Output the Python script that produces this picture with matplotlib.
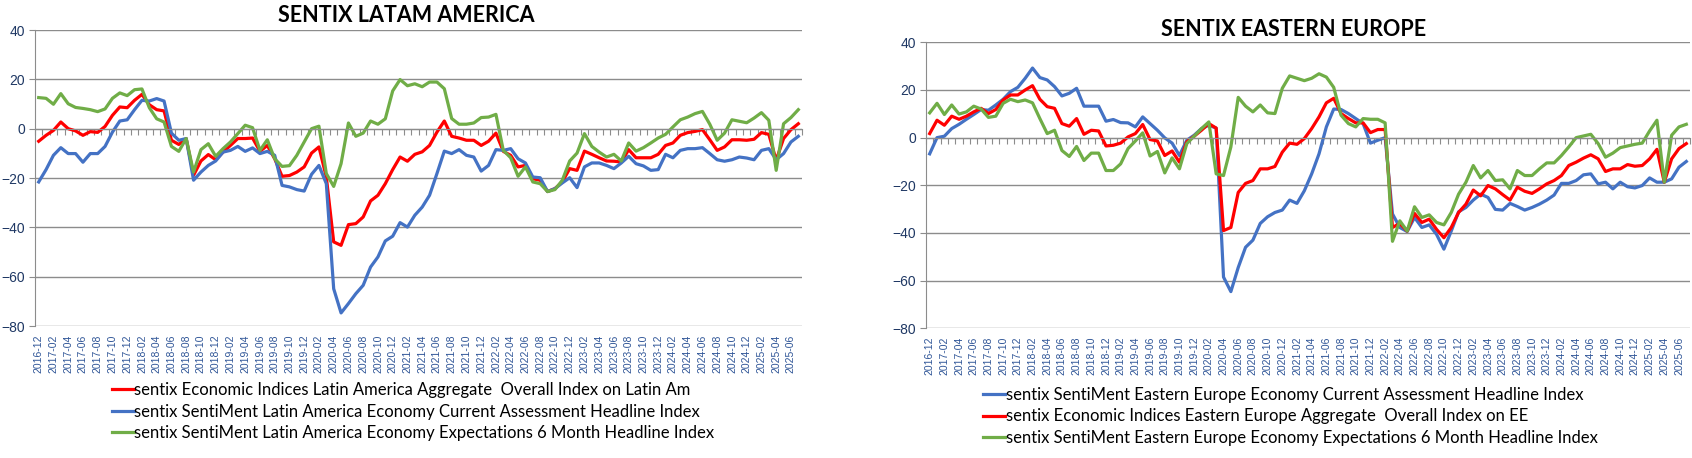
import numpy as np
import pandas as pd
import matplotlib
matplotlib.use("Agg")
import matplotlib.pyplot as plt

# monthly categories 2016-12 .. 2025-07
months = [p.strftime("%Y-%m") for p in pd.period_range("2016-12", "2025-07", freq="M")]

# --- LATAM ---
latam_overall = [
    -5.1, -2.7, -0.7, 2.7, 0.0, -0.9, -2.7, -1.2, -1.5, 0.9,
    5.4, 8.8, 8.5, 11.5, 13.9, 9.7, 7.7, 7.2, -4.7, -6.4,
    -4.0, -18.9, -13.1, -10.5, -12.6, -9.5, -6.8, -4.0, -4.0, -3.8,
    -9.2, -6.8, -12.2, -19.3, -19.0, -17.6, -15.5, -9.9, -7.4, -19.6,
    -45.9, -47.3, -38.9, -38.5, -35.8, -29.3, -27.0, -22.3, -16.6, -11.5,
    -13.2, -10.4, -9.4, -6.8, -1.4, 3.1, -3.1, -3.8, -4.7, -4.7,
    -6.8, -5.1, -1.8, -9.2, -10.8, -15.5, -14.9, -20.3, -20.9, -25.5,
    -24.3, -21.6, -16.2, -16.9, -9.1, -10.4, -11.8, -13.1, -13.2, -13.5,
    -8.5, -11.8, -11.8, -11.8, -10.4, -6.8, -5.8, -2.7, -1.6, -1.1,
    -0.4, -4.5, -8.8, -7.4, -4.5, -4.5, -4.7, -4.3, -1.6, -2.3,
    -12.8, -4.0, -0.4, 2.0,
]
latam_current = [
    -21.6, -16.6, -10.8, -7.7, -10.1, -10.1, -13.6, -10.1, -10.1, -7.2,
    -1.4, 3.1, 3.6, 7.7, 11.5, 11.2, 12.2, 11.2, -1.8, -4.7,
    -4.0, -20.9, -17.6, -14.9, -13.1, -9.5, -8.8, -7.2, -9.2, -7.8,
    -10.1, -9.2, -10.8, -23.0, -23.6, -24.7, -25.3, -18.5, -14.9, -22.3,
    -64.9, -74.7, -70.9, -66.9, -63.5, -56.1, -52.0, -45.5, -43.6, -38.1,
    -39.9, -35.1, -31.8, -27.0, -18.2, -9.1, -10.1, -8.5, -10.8, -11.5,
    -17.2, -14.9, -8.5, -8.8, -8.1, -12.2, -13.9, -19.6, -19.9, -25.5,
    -24.3, -22.0, -19.9, -23.9, -15.5, -13.9, -13.9, -14.9, -16.2, -13.9,
    -11.2, -14.2, -15.1, -16.9, -16.6, -10.4, -11.8, -8.8, -8.1, -8.1,
    -7.7, -10.1, -12.6, -13.2, -12.6, -11.5, -11.9, -12.6, -8.8, -8.1,
    -12.6, -10.1, -5.4, -3.1,
]
latam_expect = [
    12.6, 12.3, 9.9, 14.2, 10.1, 8.6, 8.2, 7.7, 6.9, 8.0,
    12.3, 14.5, 13.4, 15.8, 16.1, 8.5, 4.0, 2.7, -7.2, -9.2,
    -4.0, -17.6, -8.5, -6.1, -11.2, -8.1, -5.4, -2.0, 1.4, 0.4,
    -8.8, -4.5, -12.2, -15.3, -15.0, -10.8, -5.4, 0.0, 1.0, -18.2,
    -23.4, -14.2, 2.3, -3.1, -1.8, 3.1, 1.8, 4.0, 15.3, 19.9,
    17.4, 18.2, 17.0, 18.9, 18.9, 16.2, 4.1, 1.8, 1.8, 2.3,
    4.5, 4.7, 5.8, -8.8, -11.8, -19.3, -15.5, -21.6, -22.3, -25.5,
    -24.7, -20.9, -13.1, -9.9, -2.0, -7.2, -9.5, -11.5, -10.4, -13.1,
    -5.8, -9.1, -7.7, -5.8, -3.8, -2.3, 0.7, 3.6, 4.7, 6.1,
    7.0, 1.8, -4.7, -1.8, 3.6, 3.0, 2.4, 4.3, 6.5, 3.4,
    -16.9, 2.0, 4.5, 7.7,
]

# --- EASTERN EUROPE ---
ee_current = [
    -6.8, 0.0, 0.6, 3.8, 5.6, 7.7, 9.7, 11.8, 11.5, 13.7,
    16.1, 19.3, 21.1, 24.9, 29.2, 25.2, 24.2, 21.4, 17.5, 18.6,
    20.7, 13.2, 13.2, 13.2, 6.9, 7.6, 6.3, 6.2, 4.5, 8.7,
    5.9, 3.1, -0.1, -2.3, -7.5, -1.1, 1.0, 3.8, 5.2, 4.0,
    -58.5, -64.6, -54.5, -46.0, -43.0, -36.0, -33.2, -31.4, -30.4, -26.2,
    -27.6, -22.3, -15.2, -6.8, 4.5, 12.0, 11.8, 10.1, 8.0, 5.9,
    -2.3, -1.1, 0.0, -32.0, -37.7, -39.4, -33.5, -37.7, -36.6, -40.6,
    -46.8, -39.2, -31.1, -29.3, -26.2, -23.7, -25.1, -30.1, -30.4, -27.6,
    -28.9, -30.4, -29.3, -27.9, -26.2, -24.1, -19.2, -19.2, -18.0, -15.6,
    -15.2, -19.4, -18.7, -21.5, -18.7, -20.6, -21.1, -20.1, -16.9, -18.7,
    -18.7, -17.3, -12.4, -10.0,
]
ee_overall = [
    1.7, 7.3, 5.2, 9.0, 7.7, 9.0, 10.8, 12.3, 10.1, 11.8,
    15.8, 17.9, 17.9, 20.0, 21.8, 16.1, 13.0, 12.3, 5.9, 4.8,
    8.0, 1.4, 3.1, 2.8, -3.5, -3.2, -2.3, 0.3, 1.7, 5.5,
    -0.8, -1.4, -7.5, -5.6, -10.3, -1.8, 0.6, 3.1, 5.9, 4.0,
    -39.0, -37.7, -23.0, -19.2, -18.0, -13.1, -13.1, -12.1, -6.1, -2.3,
    -2.8, -0.4, 3.8, 8.7, 14.6, 16.5, 10.1, 8.0, 6.2, 6.2,
    2.1, 3.4, 3.4, -37.7, -36.0, -39.2, -31.8, -35.6, -34.2, -38.5,
    -42.0, -37.7, -31.4, -27.9, -22.0, -24.4, -20.1, -21.5, -23.9, -26.2,
    -20.8, -22.5, -23.4, -21.5, -19.4, -18.0, -15.9, -11.7, -10.3, -8.6,
    -7.2, -8.9, -14.2, -13.1, -13.1, -11.3, -12.0, -11.7, -8.9, -4.9,
    -18.7, -8.9, -4.6, -2.5,
]
ee_expect = [
    10.4, 14.4, 9.7, 13.7, 9.9, 10.8, 13.2, 12.0, 8.5, 9.0,
    14.4, 16.1, 15.1, 15.8, 14.6, 8.0, 1.7, 3.1, -5.4, -7.9,
    -3.7, -9.6, -6.5, -6.5, -13.8, -13.8, -11.0, -4.6, -1.4, 2.0,
    -7.7, -5.8, -14.8, -8.5, -13.1, -2.5, 0.6, 3.8, 6.6, -15.2,
    -15.9, -3.9, 16.9, 13.2, 10.8, 13.7, 10.4, 10.1, 20.7, 25.9,
    24.9, 23.9, 24.9, 26.8, 25.4, 21.1, 9.4, 5.9, 4.5, 8.0,
    7.7, 7.7, 6.2, -43.5, -34.9, -39.2, -29.0, -33.5, -32.4, -35.6,
    -36.6, -31.4, -23.7, -18.7, -11.7, -16.9, -13.8, -18.0, -17.7, -21.5,
    -13.8, -15.9, -15.9, -13.1, -10.6, -10.6, -7.5, -3.9, 0.0, 0.7,
    1.4, -2.5, -8.2, -6.5, -4.2, -3.5, -2.8, -2.3, 2.8, 7.3,
    -18.7, 1.0, 4.5, 5.6,
]

RED = "#FF0000"
BLUE = "#4472C4"
GREEN = "#70AD47"
GRID = "#8C8C8C"
YLAB = "#1F3864"
XLAB = "#2F5597"

W, H = 1692, 458
fig = plt.figure(figsize=(W / 100, H / 100), dpi=100)


def make_chart(rect, title, title_xy, series, legend_xy):
    ax = fig.add_axes(rect)
    x = np.arange(len(months))
    handles = []
    for values, color, label in series:
        h, = ax.plot(x, values, color=color, lw=2.3, label=label, solid_joinstyle="round")
        handles.append(h)

    ax.set_xlim(-0.5, len(months) - 0.5)
    ax.set_ylim(-80, 40)
    ax.set_yticks(np.arange(-80, 41, 20))
    ax.grid(axis="y", color=GRID, lw=1.0)
    ax.set_axisbelow(True)
    for s in ["top", "right"]:
        ax.spines[s].set_visible(False)
    ax.spines["left"].set_color(GRID)
    ax.spines["bottom"].set_color(GRID)
    ax.spines["bottom"].set_position(("data", 0))
    ax.tick_params(axis="y", colors=GRID, labelcolor=YLAB, labelsize=10, length=4, pad=3)
    ax.set_xticks(np.arange(-0.5, len(months), 1))
    ax.tick_params(axis="x", colors=GRID, length=4, labelbottom=False)
    for lbl in ax.get_yticklabels():
        lbl.set_fontfamily("Liberation Sans")

    sec = ax.secondary_xaxis(0.0)
    sec.set_xticks(x[::2], labels=months[::2], rotation=90)
    sec.spines["bottom"].set_visible(False)
    sec.tick_params(length=0, pad=6, labelsize=7.5, labelcolor=XLAB)
    for lbl in sec.get_xticklabels():
        lbl.set_fontfamily("Liberation Sans")

    fig.text(title_xy[0], title_xy[1], title, ha="center", va="center", fontsize=15.5,
             fontweight="bold", family="Lato")

    fig.legend(handles=handles, loc="upper left",
               bbox_to_anchor=legend_xy, frameon=False,
               prop={"family": "Lato", "size": 12}, handlelength=1.3,
               handletextpad=0.05, labelspacing=0.33, borderpad=0,
               borderaxespad=0)
    return ax


make_chart([35 / W, 1 - 326 / H, 767 / W, 296 / H], "SENTIX LATAM AMERICA",
           (406 / W, 1 - 15 / H),
           [(latam_overall, RED, "sentix Economic Indices Latin America Aggregate  Overall Index on Latin Am"),
            (latam_current, BLUE, "sentix SentiMent Latin America Economy Current Assessment Headline Index"),
            (latam_expect, GREEN, "sentix SentiMent Latin America Economy Expectations 6 Month Headline Index")],
           (112 / W, 1 - 382 / H))

make_chart([926 / W, 1 - 328.3 / H, 764 / W, 286 / H], "SENTIX EASTERN EUROPE",
           (1294 / W, 1 - 30 / H),
           [(ee_current, BLUE, "sentix SentiMent Eastern Europe Economy Current Assessment Headline Index"),
            (ee_overall, RED, "sentix Economic Indices Eastern Europe Aggregate  Overall Index on EE"),
            (ee_expect, GREEN, "sentix SentiMent Eastern Europe Economy Expectations 6 Month Headline Index")],
           (983 / W, 1 - 387 / H))

fig.savefig("out.png", dpi=100)
